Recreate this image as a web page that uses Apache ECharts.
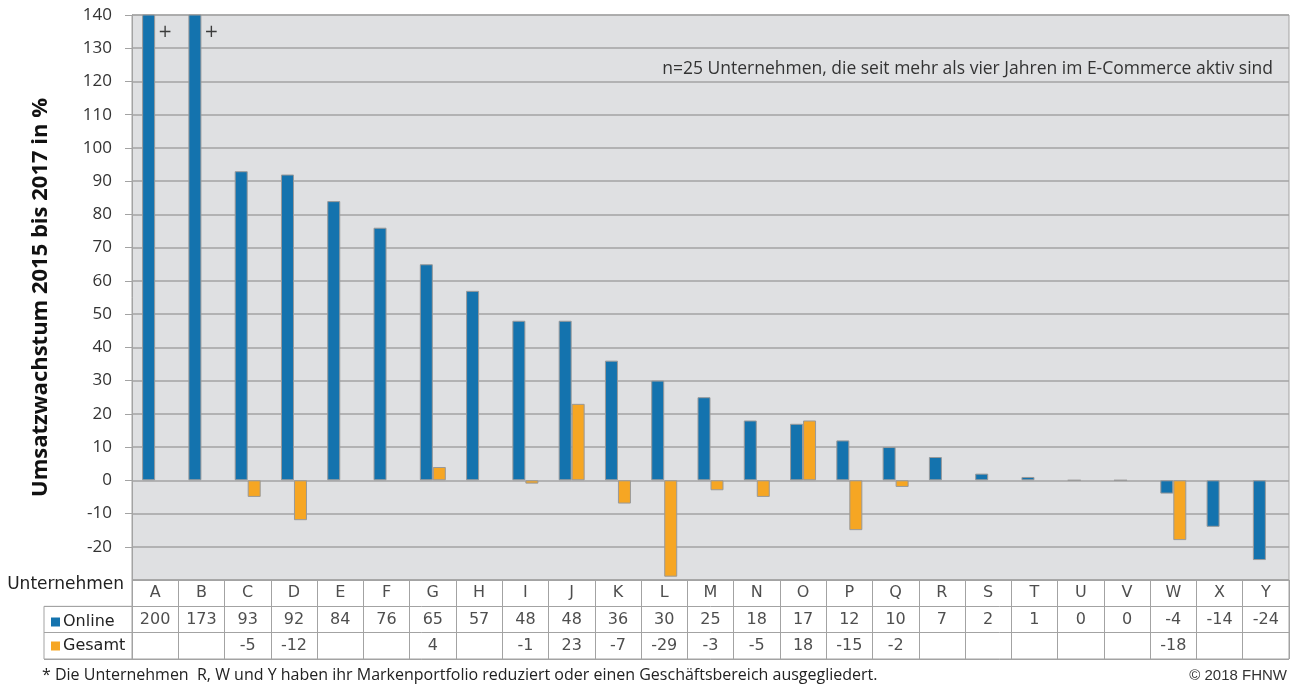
<!DOCTYPE html>
<html>
<head>
<meta charset="utf-8">
<script src="https://cdn.jsdelivr.net/npm/echarts@6/dist/echarts.min.js"></script>
<style>
  html, body { margin: 0; padding: 0; background: #fff; }
  #chart { width: 1300px; height: 684px; }
</style>
</head>
<body>
<div id="chart"></div>
<script>
var companies = ['A','B','C','D','E','F','G','H','I','J','K','L','M','N','O','P','Q','R','S','T','U','V','W','X','Y'];
var online = [200,173,93,92,84,76,65,57,48,48,36,30,25,18,17,12,10,7,2,1,0,0,-4,-14,-24];
var gesamt = [null,null,-5,-12,null,null,4,null,-1,23,-7,-29,-3,-5,18,-15,-2,null,null,null,null,null,-18,null,null];
var rowNames = ['Unternehmen','Online','Gesamt'];
var yMin = -30, yMax = 140, yStep = 10;

var blue = '#1473ae', orange = '#f6a623', lineGray = '#a3a3a3';
var tableFont = 'DejaVu Sans';

// table cells (row 1 = Online, row 2 = Gesamt)
var cells = [];
online.forEach(function (v, i) { cells.push([i, 1, v]); });
gesamt.forEach(function (v, i) { if (v !== null) cells.push([i, 2, v]); });

// "+" marker for bars cut off by the axis maximum
var overflow = [];
online.forEach(function (v, i) { if (v > yMax) overflow.push([i, yMax - 5]); });

var myChart = echarts.init(document.getElementById('chart'));
var option = {
    animation: false,
    title: [{
        text: 'n=25 Unternehmen, die seit mehr als vier Jahren im E-Commerce aktiv sind',
        right: 22, top: 55,
        textStyle: { fontFamily: 'Open Sans', fontSize: 17.5, fontWeight: 'normal', color: '#333' }
    }, {
        text: '* Die Unternehmen  R, W und Y haben ihr Markenportfolio reduziert oder einen Geschäftsbereich ausgegliedert.',
        left: 37, top: 662,
        textStyle: { fontFamily: 'Open Sans', fontSize: 16, fontWeight: 'normal', color: '#222' }
    }, {
        text: '© 2018 FHNW',
        right: 8, top: 663,
        textStyle: { fontFamily: 'Liberation Sans', fontSize: 15, fontWeight: 'normal', color: '#333' }
    }],
    legend: {
        data: ['Online', 'Gesamt'],
        orient: 'vertical',
        left: 46, top: 609,
        itemWidth: 9, itemHeight: 9, itemGap: 8,
        icon: 'rect',
        itemStyle: { borderWidth: 0 },
        textStyle: { fontFamily: tableFont, fontSize: 16, color: '#222', padding: [0, 0, 0, -2] },
        selectedMode: false
    },
    grid: [
        { left: 132, right: 11, top: 15, bottom: 104, show: true, backgroundColor: '#dfe0e2', borderColor: lineGray, borderWidth: 1 },
        { left: 132, right: 11, top: 580, height: 79, show: true, backgroundColor: '#fff', borderColor: lineGray, borderWidth: 1 },
        { left: 44, width: 88, top: 580 + 79 / 3, height: 79 * 2 / 3, show: true, backgroundColor: '#fff', borderColor: lineGray, borderWidth: 1 }
    ],
    xAxis: [{
        type: 'category', gridIndex: 0, data: companies,
        axisLine: { onZero: false, show: false },
        axisTick: { show: false },
        axisLabel: { show: false },
        splitLine: { show: false }
    }, {
        type: 'category', gridIndex: 1, data: companies,
        axisLine: { show: false }, axisTick: { show: false }, axisLabel: { show: false },
        splitLine: { show: true, lineStyle: { color: lineGray, width: 1 } }
    }, {
        type: 'value', gridIndex: 2, show: false
    }],
    yAxis: [{
        type: 'value', gridIndex: 0, min: yMin, max: yMax, interval: yStep,
        name: 'Umsatzwachstum 2015 bis 2017 in %',
        nameLocation: 'middle', nameGap: 80,
        nameTextStyle: { fontFamily: 'Open Sans', fontSize: 22, fontWeight: 'bold', color: '#111' },
        axisLine: { show: true, lineStyle: { color: lineGray } },
        axisTick: { show: true, length: 7, lineStyle: { color: lineGray } },
        axisLabel: { showMinLabel: false, margin: 20, fontFamily: 'Open Sans', fontSize: 17, color: '#333' },
        splitLine: { lineStyle: { color: lineGray, width: 1.5 } }
    }, {
        type: 'category', gridIndex: 1, data: rowNames, inverse: true,
        axisLine: { show: false }, axisTick: { show: false },
        axisLabel: {
            margin: 8, fontFamily: tableFont, fontSize: 17, color: '#222',
            verticalAlign: 'bottom',
            formatter: function (v, i) { return i === 0 ? v : ''; }
        },
        splitLine: { show: true, lineStyle: { color: lineGray, width: 1 } }
    }, {
        type: 'category', gridIndex: 2, data: ['Online', 'Gesamt'], inverse: true,
        axisLine: { show: false }, axisTick: { show: false }, axisLabel: { show: false },
        splitLine: { show: true, lineStyle: { color: lineGray, width: 1 } }
    }],
    series: [{
        name: 'Online', type: 'bar', data: online,
        barWidth: 13, barGap: '0%',
        itemStyle: { color: blue, borderColor: '#999', borderWidth: 1 }
    }, {
        name: 'Gesamt', type: 'bar', data: gesamt,
        barWidth: 13, barGap: '0%',
        itemStyle: { color: orange, borderColor: '#999', borderWidth: 1 }
    }, {
        name: 'overflow', type: 'scatter', data: overflow,
        symbolSize: 0, silent: true,
        label: { show: true, formatter: '+', offset: [10, 1], fontFamily: 'DejaVu Sans', fontSize: 17, color: '#111' }
    }, {
        name: 'letters', type: 'scatter', xAxisIndex: 1, yAxisIndex: 1,
        data: companies.map(function (c, i) { return [i, 0, c]; }),
        symbolSize: 0, silent: true,
        label: { show: true, position: 'inside', formatter: function (p) { return p.value[2]; }, fontFamily: tableFont, fontSize: 16, color: '#222' }
    }, {
        name: 'table', type: 'scatter', xAxisIndex: 1, yAxisIndex: 1,
        data: cells,
        symbolSize: 0, silent: true,
        label: { show: true, position: 'inside', formatter: function (p) { return p.value[2]; }, fontFamily: tableFont, fontSize: 16, color: '#222' }
    }]
};
myChart.setOption(option);
window.addEventListener('resize', function () {
    myChart.resize();
});
</script>
</body>
</html>
